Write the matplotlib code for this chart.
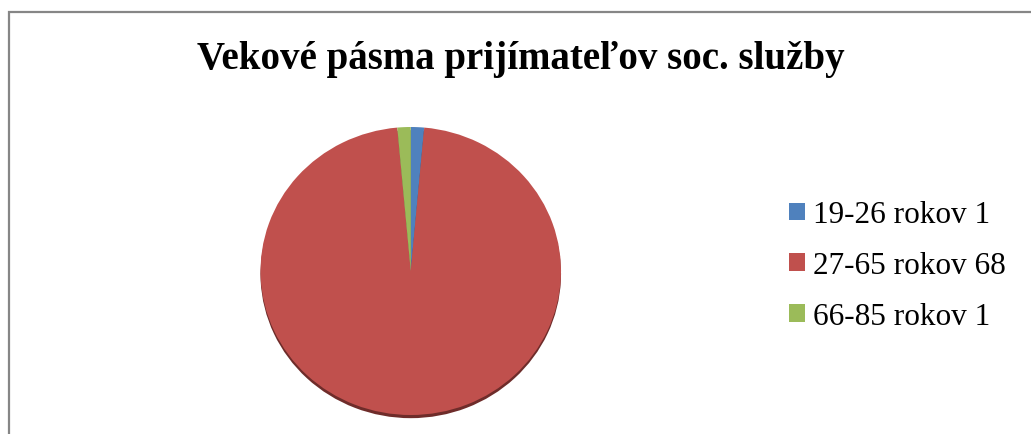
import matplotlib.pyplot as plt
from matplotlib.patches import Rectangle

# Data
title = "Vekové pásma prijímateľov soc. služby"
categories = ["19-26 rokov", "27-65 rokov", "66-85 rokov"]
values = [1, 68, 1]
colors = ["#4F81BD", "#C0504D", "#9BBB59"]
shadow_colors = ["#2f4d72", "#6e2c2a", "#5d7035"]

plt.rcParams['font.family'] = ['Liberation Serif', 'DejaVu Serif']

fig = plt.figure(figsize=(10.31, 4.35), dpi=100)

# outer chart frame (right and bottom edges fall outside the picture)
fig.add_artist(Rectangle((8.5 / 1031, -0.2), 1.2, 1.2 - 12.5 / 435,
                         transform=fig.transFigure, fill=False,
                         edgecolor="#868686", linewidth=1.6))

fig.text(521 / 1031, 1 - 69 / 435, title, ha="center", va="baseline",
         fontsize=28, fontweight="bold")

ax = fig.add_axes([260.5 / 1031, 1 - 416 / 435, 300.5 / 1031, 288 / 435])

# shadow underneath
shadow, _ = ax.pie(values, colors=shadow_colors, startangle=90, counterclock=False,
                   center=(0, -0.022), wedgeprops=dict(linewidth=0))
wedges, _ = ax.pie(values, colors=colors, startangle=90, counterclock=False,
                   wedgeprops=dict(linewidth=0))
for w in shadow + wedges:
    w.set_clip_on(False)
ax.set_aspect("auto")
ax.set_xlim(-1, 1)
ax.set_ylim(-1, 1)
ax.axis("off")

labels = [f"{c} {v}" for c, v in zip(categories, values)]
fig.legend(wedges, labels, loc="upper left", bbox_to_anchor=(789 / 1031, 1 - 201.5 / 435),
           frameon=False, fontsize=22.5, handlelength=0.5, handleheight=0.5,
           handletextpad=0.26, labelspacing=0.7, borderpad=0, borderaxespad=0)

fig.savefig("out.png", dpi=100)
